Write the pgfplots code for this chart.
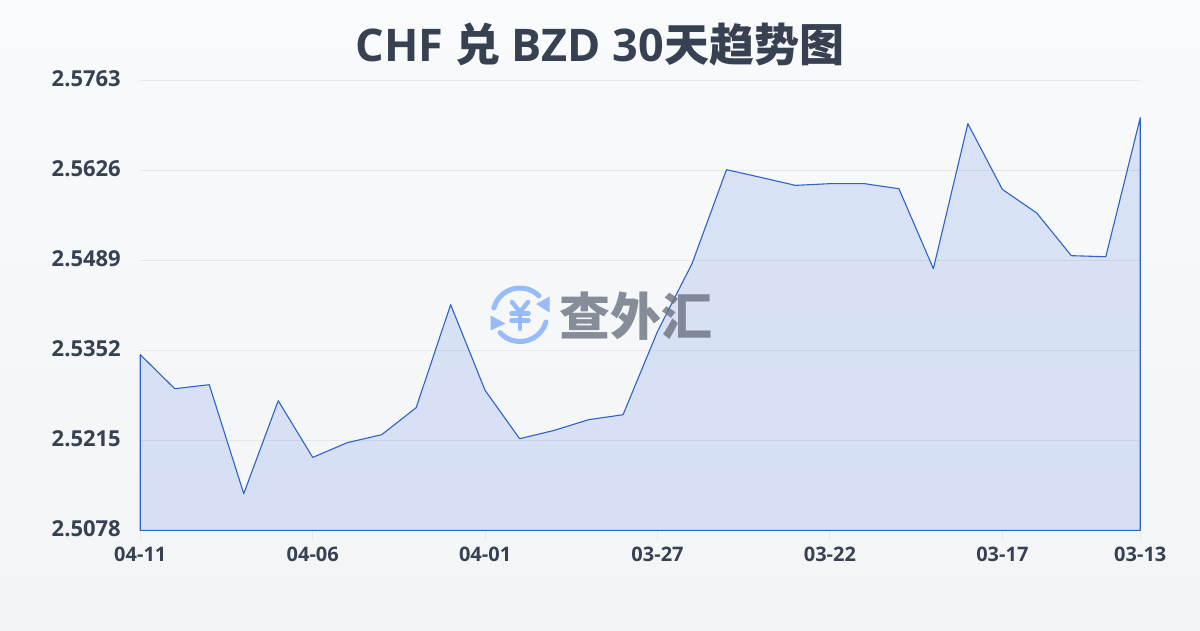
\documentclass[border=0pt]{standalone}
\usepackage{fontspec}
\usepackage{pgfplots}
\pgfplotsset{compat=1.18}
\setmainfont{Open Sans}[BoldFont={Open Sans Bold}]
\newfontfamily\cjk{Noto Sans CJK SC}
\definecolor{bgtop}{HTML}{F8FAFC}
\definecolor{bgbot}{HTML}{F3F4F6}
\definecolor{ink}{HTML}{374151}
\definecolor{gridc}{HTML}{E5E7EB}
\definecolor{linec}{HTML}{2F62C8}
\definecolor{fillc}{HTML}{2A61DD}
\definecolor{wmblue}{HTML}{93B9FA}
\definecolor{wmgray}{HTML}{6B7280}
\begin{document}
\begin{tikzpicture}[x=1pt,y=1pt]
\useasboundingbox (0,0) rectangle (1200,630);
\shade[top color=bgtop,bottom color=bgbot,draw=none] (0,0) rectangle (1200,630);
\node[anchor=center,text=ink,inner sep=0pt] at (600,585) {\fontsize{45}{52}\selectfont\bfseries CHF {\cjk 兑} BZD 30{\cjk 天趋势图}};
\begin{axis}[
  at={(140.3pt,99.6pt)},anchor=south west,
  scale only axis,width=1000pt,height=450pt,
  xmin=0,xmax=29,ymin=2.5078,ymax=2.5763,
  axis line style={draw=none},
  clip=false,
  xtick={0,5,10,15,20,25,29},
  xticklabels={04-11,04-06,04-01,03-27,03-22,03-17,03-13},
  ytick={2.5078,2.5215,2.5352,2.5489,2.5626,2.5763},
  yticklabel style={/pgf/number format/fixed,/pgf/number format/fixed zerofill,/pgf/number format/precision=4,/pgf/number format/assume math mode=true,
    font=\fontsize{22}{24}\selectfont\bfseries,text=ink,anchor=east,xshift=-6pt,yshift=2pt},
  xticklabel style={font=\fontsize{20}{22}\selectfont\bfseries,text=ink,anchor=center,yshift=-14pt},
  ymajorgrids,
  grid style={gridc,line width=1pt},
  tick align=outside,
  major tick length=10pt,
  xtick style={gridc,line width=1pt},
  ytick style={draw=none},
  xtick pos=bottom,ytick pos=left,
]
\addplot[draw=linec,line width=1.1pt,fill=fillc,fill opacity=0.145,draw opacity=1,line join=round] coordinates {
(0,2.53455)(1,2.52937)(2,2.52998)(3,2.51339)(4,2.52754)(5,2.51891)(6,2.52115)(7,2.52237)(8,2.52648)(9,2.54216)
(10,2.52911)(11,2.52176)(12,2.52302)(13,2.52465)(14,2.52541)(15,2.53809)(16,2.54840)(17,2.56271)(18,2.56153)(19,2.56032)
(20,2.56058)(21,2.56058)(22,2.55981)(23,2.54764)(24,2.56971)(25,2.55971)(26,2.55610)(27,2.54962)(28,2.54946)(29,2.57062)
} \closedcycle;
\end{axis}
% watermark
\begin{scope}[yshift=630pt,y=-1pt,line cap=round,line join=round,opacity=0.95]
 \draw[wmblue,line width=5pt] (493.8,308) arc[start angle=-165,end angle=-45,radius=27];
 \draw[wmblue,line width=5pt] (546,322) arc[start angle=16,end angle=138,radius=27];
 \fill[wmblue] (549.5,296.5) -- (549.5,312.5) -- (536,304) -- cycle;
 \fill[wmblue] (490.5,315.5) -- (490.5,330.5) -- (505.5,323.5) -- cycle;
 \draw[wmblue,line width=4.5pt] (512,302) -- (520,312) -- (528,302);
 \draw[wmblue,line width=4.5pt] (511.5,313.5) -- (528.5,313.5);
 \draw[wmblue,line width=4.5pt] (511.5,320.5) -- (528.5,320.5);
 \draw[wmblue,line width=4.5pt] (520,312) -- (520,329);
\end{scope}
\node[anchor=center,text=wmgray,opacity=0.8,inner sep=0pt] at (636,314) {\fontsize{51}{54}\selectfont\cjk\bfseries 查外汇};
\end{tikzpicture}
\end{document}
